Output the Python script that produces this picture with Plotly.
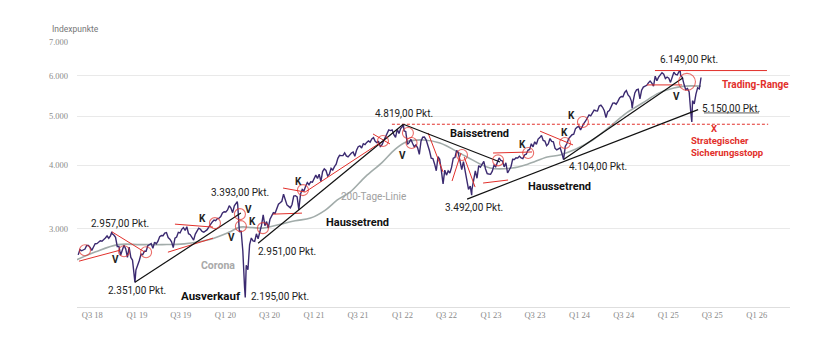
import numpy as np
import pandas as pd
import plotly.graph_objects as go

# ---------------------------------------------------------------------------
# Index level, weekly Friday closes (points), first week 2018-05-04
# ---------------------------------------------------------------------------
closes_2018 = [2663, 2728, 2713, 2721,
               2735, 2779, 2780, 2755, 2718,
               2760, 2801, 2802, 2819,
               2840, 2833, 2850, 2875, 2902,
               2872, 2904, 2930, 2914,
               2885, 2767, 2768, 2658,
               2723, 2781, 2736, 2633, 2760,
               2633, 2600, 2417, 2486]
closes_2019 = [2532, 2596, 2671, 2665,
               2707, 2708, 2776, 2793,
               2804, 2743, 2822, 2800, 2834,
               2893, 2907, 2905, 2940,
               2946, 2881, 2860, 2826, 2752,
               2873, 2887, 2950, 2942,
               2990, 3014, 2977, 3026,
               2932, 2919, 2889, 2847, 2926,
               2979, 3007, 2992, 2962,
               2952, 2970, 2986, 3023,
               3067, 3093, 3120, 3110, 3141,
               3146, 3169, 3221, 3240]
closes_2020 = [3235, 3265, 3330, 3295, 3226,
               3328, 3380, 3338, 2954,
               2972, 2711, 2305, 2541,
               2489, 2790, 2875, 2837,
               2831, 2930, 2864, 2955, 3044,
               3194, 3041, 3098, 3009,
               3130, 3185, 3225, 3216, 3271,
               3351, 3373, 3397, 3508,
               3427, 3341, 3319, 3298,
               3348, 3477, 3484, 3465, 3270,
               3510, 3585, 3558, 3638,
               3699, 3663, 3709, 3703]
closes_2021 = [3756, 3825, 3768, 3841, 3714,
               3887, 3934, 3907, 3811,
               3842, 3943, 3913, 3975,
               4020, 4129, 4185, 4180, 4181,
               4233, 4174, 4156, 4204,
               4230, 4247, 4166, 4281,
               4352, 4370, 4327, 4412, 4395,
               4437, 4468, 4442, 4509,
               4535, 4459, 4433, 4455,
               4357, 4391, 4471, 4545, 4605,
               4697, 4683, 4698, 4595,
               4538, 4712, 4621, 4725, 4766]
closes_2022 = [4677, 4663, 4398, 4432,
               4501, 4419, 4349, 4385,
               4329, 4204, 4463, 4543,
               4546, 4488, 4392, 4272, 4132,
               4123, 4024, 3901, 4158,
               4109, 3901, 3675, 3912,
               3825, 3899, 3863, 3962, 4130,
               4145, 4280, 4228, 4058,
               3924, 4067, 3873, 3693, 3586,
               3640, 3583, 3752, 3901,
               3771, 3993, 3965, 4026,
               4072, 3934, 3852, 3845, 3840]
closes_2023 = [3895, 3999, 3973, 4071,
               4136, 4090, 4079, 3970,
               4046, 3862, 3917, 3971, 4109,
               4105, 4138, 4133, 4169,
               4136, 4124, 4192, 4205,
               4282, 4299, 4410, 4348, 4450,
               4399, 4505, 4536, 4582,
               4478, 4464, 4370, 4406,
               4516, 4457, 4450, 4320, 4288,
               4308, 4328, 4224, 4104,
               4358, 4415, 4514, 4559,
               4595, 4604, 4719, 4755, 4770]
closes_2024 = [4697, 4784, 4840, 4891,
               4959, 5027, 5006, 5089,
               5137, 5124, 5117, 5234, 5254,
               5204, 5123, 4967, 5100,
               5128, 5223, 5303, 5305, 5278,
               5347, 5431, 5465, 5460,
               5567, 5615, 5505, 5459,
               5346, 5344, 5554, 5634, 5648,
               5408, 5626, 5703, 5738,
               5751, 5815, 5865, 5808,
               5729, 5995, 5871, 5969, 6032,
               6090, 6051, 5931, 5971]
closes_2025 = [5942, 5827, 5997, 6101, 6041,
               6026, 6115, 6013, 5955,
               5770, 5639, 5668, 5581,
               5074, 5363, 5283, 5525,
               5686, 5660, 5958]

# Intraweek highs and lows that are labelled in the chart
extreme_dates = ["2018-09-20", "2018-12-24", "2020-02-19", "2020-03-23",
                 "2022-01-04", "2022-10-13", "2024-08-05", "2025-02-19",
                 "2025-04-08"]
extreme_values = [2957, 2351, 3393, 2195, 4819, 3492, 5186, 6149, 4870]

# 200-day moving average (points)
ma_dates = ["2018-04-25", "2018-07-15", "2018-10-15", "2019-01-15", "2019-04-15",
            "2019-07-15", "2019-10-28", "2020-01-15", "2020-03-01", "2020-04-20",
            "2020-06-04", "2020-08-15", "2020-10-15", "2020-12-17", "2021-02-15",
            "2021-04-07", "2021-05-29", "2021-08-01", "2021-10-08", "2021-12-01",
            "2022-01-18", "2022-03-26", "2022-06-04", "2022-09-16", "2022-12-28",
            "2023-03-29", "2023-06-01", "2023-08-21", "2023-10-12", "2023-12-15",
            "2024-02-24", "2024-05-01", "2024-07-13", "2024-09-15", "2024-11-24",
            "2025-01-24", "2025-03-10", "2025-05-16"]
ma_values = [2600, 2700, 2790, 2790, 2790,
             2800, 2857, 2950, 3021, 3015,
             3007, 3060, 3110, 3147, 3260,
             3417, 3540, 3800, 4050, 4300,
             4450, 4487, 4427, 4172, 3950,
             3950, 4020, 4154, 4191, 4300,
             4487, 4750, 5073, 5300, 5556,
             5682, 5730, 5730]

y_tick_values = [3000, 4000, 5000, 6000, 7000]
y_tick_labels = ["3.000", "4.000", "5.000", "6.000", "7.000"]
x_tick_dates = ["2018-07-01", "2019-01-01", "2019-07-01", "2020-01-01",
                "2020-07-01", "2021-01-01", "2021-07-01", "2022-01-01",
                "2022-07-01", "2023-01-01", "2023-07-01", "2024-01-01",
                "2024-07-01", "2025-01-01", "2025-07-01", "2026-01-01"]
x_tick_labels = ["Q3 18", "Q1 19", "Q3 19", "Q1 20", "Q3 20", "Q1 21",
                 "Q3 21", "Q1 22", "Q3 22", "Q1 23", "Q3 23", "Q1 24",
                 "Q3 24", "Q1 25", "Q3 25", "Q1 26"]

# ---------------------------------------------------------------------------
weekly_values = (closes_2018 + closes_2019 + closes_2020 + closes_2021 +
                 closes_2022 + closes_2023 + closes_2024 + closes_2025)
weekly_dates = pd.date_range("2018-05-04", periods=len(weekly_values), freq="W-FRI")
index_series = pd.concat([
    pd.Series(weekly_values, index=weekly_dates),
    pd.Series(extreme_values, index=pd.to_datetime(extreme_dates)),
]).sort_index()

PURPLE = "#3b2a70"
GREY = "#a2acaa"
RED = "#e2302b"
BLACK = "#111111"
FONT = "Roboto"

fig = go.Figure()

fig.add_trace(go.Scatter(x=ma_dates, y=ma_values, mode="lines",
                         line=dict(color=GREY, width=1.6, shape="spline"),
                         hoverinfo="skip"))
fig.add_trace(go.Scatter(x=index_series.index, y=index_series.values, mode="lines",
                         line=dict(color=PURPLE, width=1.4),
                         hoverinfo="skip"))


def seg(d0, v0, d1, v1, color, width=1.0, dash=None):
    fig.add_trace(go.Scatter(x=[d0, d1], y=[v0, v1], mode="lines",
                             line=dict(color=color, width=width, dash=dash),
                             hoverinfo="skip"))


# red trend lines
seg("2018-05-07", 2588, "2018-10-23", 2720, RED)
seg("2018-09-20", 2957, "2019-02-03", 2696, RED)
seg("2019-05-09", 2696, "2019-11-11", 2873, RED)
seg("2019-06-07", 3062, "2019-11-11", 3021, RED)
seg("2020-07-15", 3204, "2020-11-12", 3219, RED)
seg("2020-08-26", 3607, "2020-11-25", 3542, RED)
seg("2020-11-25", 3542, "2021-10-12", 4467, RED)
seg("2021-09-01", 4611, "2021-11-10", 4407, RED)
seg("2022-04-16", 4632, "2022-06-17", 3880, RED)
seg("2022-07-24", 3724, "2022-08-30", 4229, RED)
seg("2022-09-12", 4154, "2022-10-27", 3623, RED)
seg("2022-11-29", 3690, "2023-03-12", 3741, RED)
seg("2023-01-09", 4229, "2023-06-19", 4249, RED)
seg("2023-07-22", 4670, "2023-12-05", 4387, RED)
seg("2024-11-07", 6149, "2026-02-12", 6149, RED)
seg("2024-10-05", 5761, "2025-02-27", 5761, RED)
seg("2021-11-18", 4819, "2026-02-17", 4819, RED, 1.0, "3px,2px")

# black trend lines
seg("2018-12-24", 2351, "2020-03-05", 3219, BLACK, 1.2)
seg("2020-05-15", 2808, "2022-01-04", 4819, BLACK, 1.2)
seg("2022-01-04", 4819, "2023-02-07", 4060, BLACK, 1.2)
seg("2022-09-24", 3431, "2025-05-04", 5150, BLACK, 1.2)
seg("2023-10-27", 4104, "2025-03-03", 5949, BLACK, 1.2)
seg("2025-05-28", 5073, "2026-01-10", 5073, "#333333", 0.8)

# circled signals
circle_dates = ["2018-06-01", "2018-11-09", "2019-02-08", "2019-11-19",
                "2020-03-01", "2020-03-05", "2020-06-04", "2020-11-16",
                "2021-10-12", "2022-01-23", "2022-02-07", "2022-09-03",
                "2023-01-30", "2023-06-03", "2023-11-02", "2024-01-15",
                "2025-03-19"]
circle_values = [2720, 2708, 2696, 3076,
                 3204, 3034, 3007, 3574,
                 4467, 4632, 4427, 4191,
                 4090, 4229, 4427, 4869,
                 5841]
circle_sizes = [11] * 16 + [17]
fig.add_trace(go.Scatter(x=circle_dates, y=circle_values, mode="markers",
                         marker=dict(symbol="circle-open", size=circle_sizes,
                                     color=RED, line=dict(width=1.1, color=RED)),
                         hoverinfo="skip"))


def note(text, date, value, size=10, color="#222222", bold=False,
         xanchor="center", family=FONT):
    label = f"<b>{text}</b>" if bold else text
    fig.add_annotation(x=date, y=np.log10(value), xref="x", yref="y",
                       text=label, showarrow=False, xanchor=xanchor,
                       yanchor="middle", align="left",
                       font=dict(family=family, size=size, color=color))


note("2.957,00 Pkt.", "2018-10-23", 3076)
note("2.351,00 Pkt.", "2019-01-01", 2268)
note("3.393,00 Pkt.", "2020-03-01", 3534)
note("2.951,00 Pkt.", "2020-09-11", 2708)
note("2.195,00 Pkt.", "2020-08-13", 2207)
note("4.819,00 Pkt.", "2022-01-07", 5050)
note("3.492,00 Pkt.", "2022-10-23", 3308)
note("4.104,00 Pkt.", "2024-03-17", 3986)
note("6.149,00 Pkt.", "2025-03-28", 6457)
note("5.150,00 Pkt.", "2025-09-17", 5166)

for d, v in [("2018-10-03", 2611), ("2020-04-07", 3278), ("2020-01-28", 2886),
             ("2021-12-30", 4191), ("2025-02-02", 5470)]:
    note("V", d, v, bold=True)
for d, v in [("2019-09-27", 3147), ("2020-04-20", 3104), ("2020-10-27", 3724),
             ("2023-05-09", 4387), ("2023-10-29", 4632), ("2023-11-27", 5003)]:
    note("K", d, v, bold=True)

note("Ausverkauf", "2019-11-02", 2207, size=11.5, bold=True, color="#111111")
note("Corona", "2019-12-01", 2541, size=10.5, bold=True, color="#a9a9a9")
note("Haussetrend", "2021-07-01", 3090, size=11, bold=True, color="#111111")
note("200-Tage-Linie", "2021-09-05", 3478, size=10, color="#a0a0a0")
note("Baissetrend", "2022-11-13", 4611, size=11, bold=True, color="#111111")
note("Haussetrend", "2023-10-12", 3640, size=11, bold=True, color="#111111")
note("Trading-Range", "2025-12-25", 5761, size=10, bold=True, color=RED)
note("X", "2025-07-09", 4735, size=9.5, bold=True, color=RED)
note("Strategischer<br>Sicherungsstopp", "2025-03-28", 4355, size=9.5,
     bold=True, color=RED, xanchor="left")

fig.add_annotation(x=0, y=1, xref="paper", yref="paper", xshift=-27, yshift=13,
                   text="Indexpunkte", showarrow=False, xanchor="left",
                   yanchor="middle", font=dict(family=FONT, size=8.5, color="#777777"))

fig.update_layout(
    width=840, height=344,
    margin=dict(l=77, r=50, t=42, b=37),
    paper_bgcolor="white", plot_bgcolor="white",
    showlegend=False,
    xaxis=dict(type="date", range=["2018-04-29", "2026-05-18"],
               tickvals=x_tick_dates, ticktext=x_tick_labels,
               showgrid=False, zeroline=False, showline=True,
               linecolor="#dedede", linewidth=1, ticks="",
               tickfont=dict(family="Liberation Serif", size=8.5, color="#8a8a8a")),
    yaxis=dict(type="log", range=[np.log10(2102), np.log10(7000)],
               tickvals=y_tick_values, ticktext=y_tick_labels,
               showgrid=True, gridcolor="#e9e9e9", gridwidth=1,
               zeroline=False, showline=False, ticks="",
               ticklabelstandoff=8,
               tickfont=dict(family="Liberation Serif", size=8.5, color="#8a8a8a")),
)

fig.write_html("out.html")
